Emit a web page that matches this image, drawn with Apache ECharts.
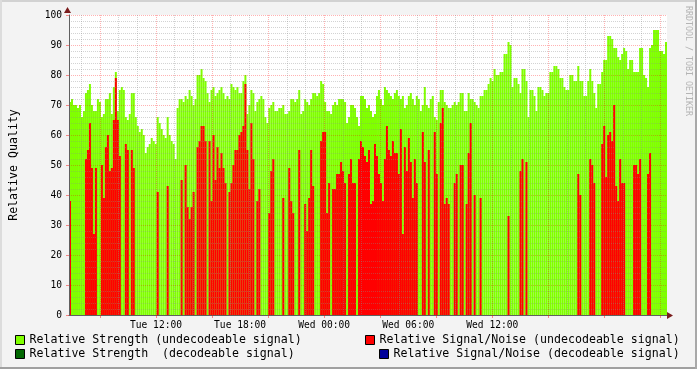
<!DOCTYPE html>
<html><head><meta charset="utf-8">
<script src="https://cdn.jsdelivr.net/npm/echarts@6/dist/echarts.min.js"></script>
<style>html,body{margin:0;padding:0;background:#f3f3f3}#c{width:697px;height:369px}</style>
</head><body><div id="c"></div><script>
// ---- data (one column = one consolidated sample) ----
const strengthUndecodeable = [
71,72,70,70,69,70,66,68,74,75,
77,70,68,68,72,71,66,67,72,72,
74,67,76,81,68,75,76,75,66,65,
67,74,74,66,63,61,62,60,54,56,
57,59,58,57,66,64,62,60,59,66,
60,58,57,52,69,72,72,71,73,72,
75,73,70,72,80,80,82,79,78,74,
71,75,76,73,74,75,76,74,72,73,
72,77,76,75,76,74,74,78,80,67,
70,75,74,68,71,72,73,72,66,64,
69,70,71,68,68,69,69,70,67,67,
68,72,72,71,72,75,67,68,72,71,
70,72,74,74,73,74,78,77,71,68,
68,67,70,71,70,72,72,72,71,64,
66,70,70,69,66,63,73,73,72,69,
70,68,66,67,73,75,72,70,76,75,
74,73,72,74,75,73,72,73,69,70,
73,74,72,70,73,72,68,70,76,70,
69,72,73,66,65,71,75,75,71,70,
69,69,70,71,70,71,74,74,68,68,
74,72,72,71,70,69,73,73,75,75,
77,79,78,82,80,80,81,81,87,87,
91,90,76,79,79,77,74,82,82,78,
66,75,75,73,68,76,76,75,73,74,
74,81,81,83,83,82,79,79,76,75,
75,80,80,78,78,83,78,78,73,73,
78,82,78,74,69,77,77,81,85,85,
93,93,92,89,89,86,85,87,89,88,
82,85,85,81,81,81,89,89,80,79,
76,89,90,95,95,95,88,88,87,91
];
const snUndecodeable = [
38,0,0,0,0,0,0,0,52,55,
64,49,27,49,0,0,50,39,56,60,
48,49,65,79,65,53,0,0,57,55,
0,55,49,0,0,0,0,0,0,0,
0,0,0,0,41,0,0,0,0,43,
0,0,0,0,0,0,45,0,50,36,
32,36,41,0,56,58,63,63,58,0,
58,38,60,45,56,49,54,49,44,0,
41,44,50,55,55,60,61,63,77,55,
42,64,52,0,38,42,0,0,0,0,
34,48,52,0,0,0,0,39,0,0,
49,38,34,0,0,55,0,0,37,28,
39,55,43,0,0,0,58,61,61,34,
44,0,42,42,47,47,51,48,44,0,
47,52,44,44,0,52,58,56,53,51,
55,37,38,57,53,47,44,38,52,63,
55,53,58,54,54,47,62,27,56,48,
59,51,39,52,44,0,0,61,51,0,
55,0,0,61,47,0,64,69,37,39,
37,0,0,44,47,0,50,50,0,37,
54,64,0,40,0,0,39,0,0,0,
0,0,0,0,0,0,0,0,0,0,
33,0,0,0,0,0,48,52,0,51,
0,0,0,0,0,0,0,0,0,0,
0,0,0,0,0,0,0,0,0,0,
0,0,0,0,0,47,40,0,0,0,
0,52,50,44,0,0,0,57,63,46,
60,61,58,70,43,38,52,44,44,0,
0,0,0,50,50,47,52,0,0,0,
47,54,0,0,0,0,0,0,0,0
];
const strengthDecodeable = [];   // nothing visible in the reference
const snDecodeable = [];         // nothing visible in the reference

// time axis (hours since Tue 00:00)
const startHour = 5.79;
const endHour = 48.47;
const labelHours = [12, 18, 24, 30, 36];
const labelTexts = ['Tue 12:00', 'Tue 18:00', 'Wed 00:00', 'Wed 06:00', 'Wed 12:00'];
const majorHours = [8, 12, 16, 20, 24, 28, 32, 36, 40, 44, 48];
const minorStep = 4 / 3;
const yTicks = [0, 10, 20, 30, 40, 50, 60, 70, 80, 90, 100];

const seriesNames = [
  'Relative Strength (undecodeable signal)',
  'Relative Strength  (decodeable signal)',
  'Relative Signal/Noise (undecodeable signal)',
  'Relative Signal/Noise (decodeable signal)'
];
const seriesColors = ['#80ff00', '#006600', '#ff0000', '#000099'];

// ---- chart ----
const minorHours = [];
for (let k = 1; k * minorStep < endHour; k++) {
  const h = k * minorStep;
  if (k % 3 !== 0 && h > startHour) minorHours.push(h);
}
const cats = strengthUndecodeable.map((_, i) => String(i));
const FONT = 'DejaVu Sans Mono';
const minorC = 'rgba(140,140,140,0.38)';
const majorC = 'rgba(255,0,0,0.30)';

function timeAxis(extra) {
  return Object.assign({
    type: 'value', gridIndex: 0, min: startHour, max: endHour, position: 'bottom', z: 5,
    axisLine: {show: false}, axisLabel: {show: false}, axisTick: {show: false},
    splitLine: {show: false}
  }, extra);
}
function barSeries(idx, data) {
  return {
    name: seriesNames[idx], type: 'bar', xAxisIndex: 0, yAxisIndex: 0, data: data,
    barWidth: '100%', barGap: '-100%', barCategoryGap: '0%',
    itemStyle: {color: seriesColors[idx]}, emphasis: {disabled: true}, silent: true
  };
}
const legendCommon = {
  padding: 0, itemWidth: 9, itemHeight: 9, icon: 'rect', selectedMode: false,
  itemStyle: {borderColor: '#000', borderWidth: 1},
  textStyle: {fontFamily: FONT, fontSize: 11.6, color: '#000'}
};

const chart = echarts.init(document.getElementById('c'));
chart.setOption({
  backgroundColor: '#f3f3f3',
  animation: false,
  grid: {left: 67, top: 15, width: 600, height: 300, show: true, backgroundColor: '#ffffff', borderWidth: 0},
  xAxis: [
    {type: 'category', data: cats, show: false, boundaryGap: true},
    timeAxis({axisTick: {show: false, customValues: minorHours},
              splitLine: {show: true, lineStyle: {color: minorC, type: [1, 1], width: 1}}}),
    timeAxis({axisTick: {show: true, customValues: majorHours, length: 3, lineStyle: {color: 'rgba(255,0,0,0.45)'}},
              splitLine: {show: true, lineStyle: {color: majorC, type: [1, 1], width: 1}}}),
    timeAxis({axisLine: {show: true, onZero: false, lineStyle: {color: '#606060', width: 1}},
              axisLabel: {show: true, customValues: labelHours, margin: 5,
                          formatter: v => labelTexts[labelHours.indexOf(v)] || '',
                          fontFamily: FONT, fontSize: 9.6, color: '#000'}})
  ],
  yAxis: {
    type: 'value', min: 0, max: 100, interval: 10, z: 5,
    axisLine: {show: true, lineStyle: {color: '#606060', width: 1}},
    axisTick: {show: true, length: 3, lineStyle: {color: 'rgba(255,0,0,0.45)'}},
    axisLabel: {fontFamily: FONT, fontSize: 9.6, color: '#000', margin: 7,
                customValues: yTicks},
    splitLine: {show: true, lineStyle: {color: majorC, type: [1, 1], width: 1}},
    minorTick: {show: false, splitNumber: 5},
    minorSplitLine: {show: true, lineStyle: {color: minorC, type: [1, 1], width: 1}},
    name: 'Relative Quality', nameLocation: 'middle', nameGap: 49,
    nameTextStyle: {fontFamily: FONT, fontSize: 11.6, color: '#000'}
  },
  legend: [
    Object.assign({data: [seriesNames[0]], left: 15, top: 334}, legendCommon),
    Object.assign({data: [seriesNames[1]], left: 15, top: 348}, legendCommon),
    Object.assign({data: [seriesNames[2]], left: 365, top: 334}, legendCommon),
    Object.assign({data: [seriesNames[3]], left: 379, top: 348}, legendCommon)
  ],
  series: [
    barSeries(0, strengthUndecodeable),
    barSeries(1, strengthDecodeable),
    barSeries(2, snUndecodeable),
    barSeries(3, snDecodeable)
  ],
  graphic: [
    {type: 'rect', shape: {x: 0, y: 0, width: 697, height: 2}, style: {fill: '#d2d2d2'}, silent: true},
    {type: 'rect', shape: {x: 0, y: 0, width: 2, height: 369}, style: {fill: '#dcdcdc'}, silent: true},
    {type: 'rect', shape: {x: 0, y: 367, width: 697, height: 2}, style: {fill: '#a0a0a0'}, silent: true},
    {type: 'rect', shape: {x: 695, y: 0, width: 2, height: 369}, style: {fill: '#a8a8a8'}, silent: true},
    {type: 'polygon', shape: {points: [[64, 13], [71, 13], [67.5, 7]]}, style: {fill: '#7a1c1c'}, silent: true, z: 10},
    {type: 'polygon', shape: {points: [[667, 312], [667, 319], [673, 315.5]]}, style: {fill: '#7a1c1c'}, silent: true, z: 10},
    {type: 'text', x: 688, y: 6, rotation: -Math.PI / 2, silent: true,
     style: {text: 'RRDTOOL / TOBI OETIKER', fontFamily: FONT, fontSize: 8.3, fill: '#b4b4b4',
             textAlign: 'left', textVerticalAlign: 'middle'}}
  ]
});
</script></body></html>
